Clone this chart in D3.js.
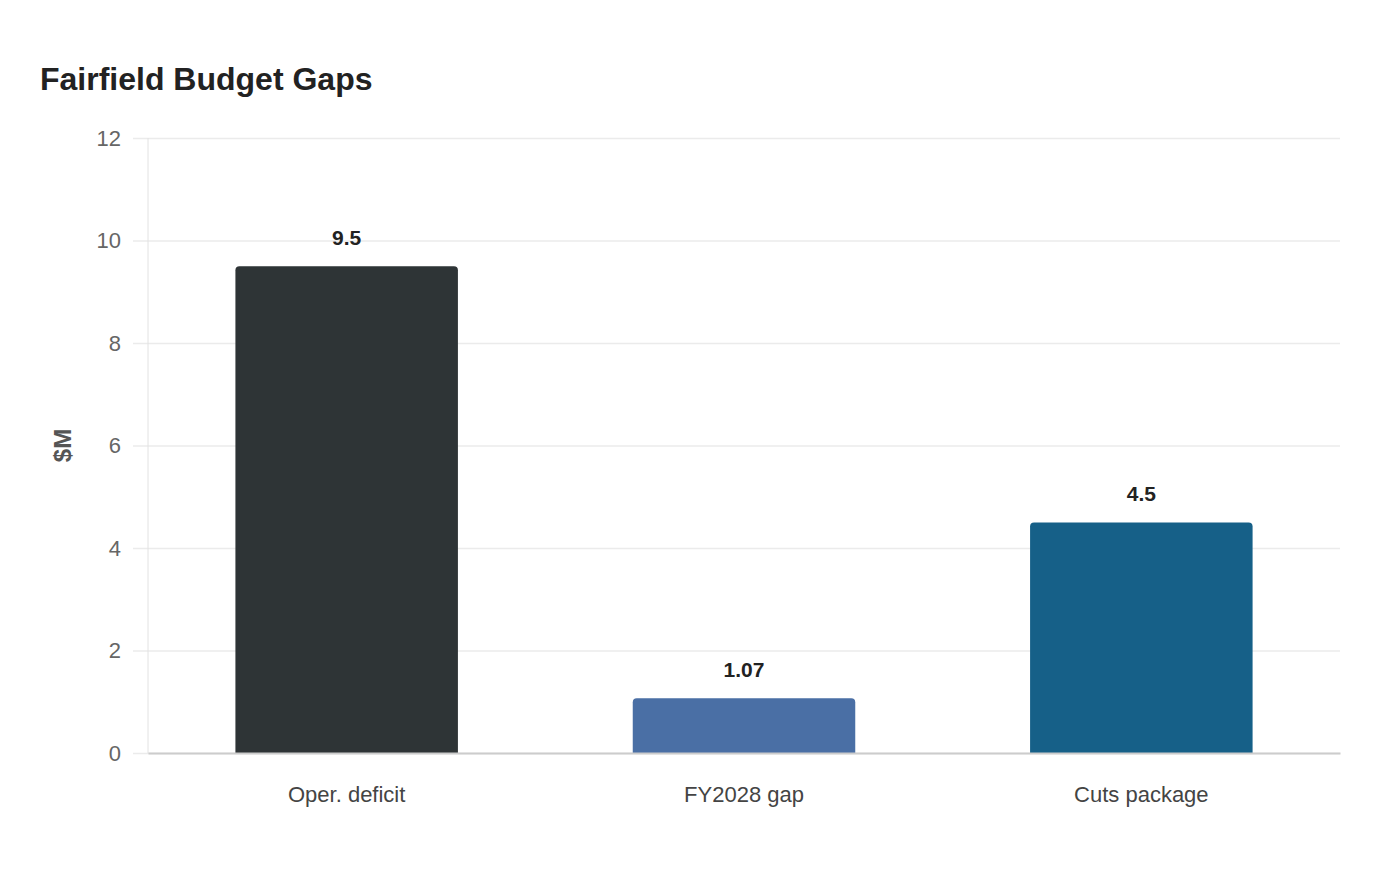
<!DOCTYPE html>
<html lang="en">
<head>
    <meta charset="UTF-8">
    <title>Fairfield Budget Gaps</title>
    <script src="https://d3js.org/d3.v7.min.js"></script>
    <style>
        body { margin: 0; background: #fff; }
        .chart { font-family: "Liberation Sans", Arial, sans-serif; }
    </style>
</head>
<body>
    <div class="chart" id="budget_chart"></div>

    <script>
        // values, $M
        const categories = ["Oper. deficit", "FY2028 gap", "Cuts package"];
        const amounts = [9.5, 1.07, 4.5];
        const barColors = ["#2e3436", "#4a6fa5", "#166088"];
        const yTicks = [0, 2, 4, 6, 8, 10, 12];

        const width = 1400, height = 880;
        const margin = { top: 138, right: 60, bottom: 127, left: 148 };
        const innerW = width - margin.left - margin.right;
        const innerH = height - margin.top - margin.bottom;
        const fontFam = "\"Liberation Sans\", Arial, sans-serif";

        const svg = d3.select("#budget_chart").append("svg")
            .attr("width", width)
            .attr("height", height);

        svg.append("text")
            .attr("x", 40)
            .attr("y", 90)
            .style("font-size", "32px")
            .style("font-weight", "bold")
            .attr("fill", "#222")
            .text("Fairfield Budget Gaps");

        const g = svg.append("g")
            .attr("transform", `translate(${margin.left},${margin.top})`);

        const x = d3.scaleBand()
            .domain(categories)
            .range([0, innerW])
            .paddingInner(0.44)
            .paddingOuter(0.22);

        const y = d3.scaleLinear()
            .domain([0, 12])
            .range([innerH, 0]);

        // grid lines + y ticks
        const yAxis = g.append("g")
            .call(d3.axisLeft(y).tickValues(yTicks));
        yAxis.select(".domain").remove();
        yAxis.selectAll(".tick line")
            .attr("x1", -15)
            .attr("x2", innerW)
            .attr("stroke", "#ebebeb")
            .attr("stroke-width", 1.5);
        yAxis.selectAll(".tick text")
            .attr("x", -27)
            .style("font-size", "22px")
            .style("font-family", fontFam)
            .attr("fill", "#666");

        // left axis line
        g.append("line")
            .attr("x1", 0).attr("x2", 0)
            .attr("y1", 0).attr("y2", innerH)
            .attr("stroke", "#e2e2e2");

        // bars with rounded tops
        const r = 4;
        g.selectAll(".bar")
            .data(amounts)
            .join("path")
            .attr("class", "bar")
            .attr("fill", (d, i) => barColors[i])
            .attr("d", (d, i) => {
                const x0 = x(categories[i]), x1 = x0 + x.bandwidth();
                const y0 = y(0), y1 = y(d);
                return `M${x0},${y0}V${y1 + r}Q${x0},${y1} ${x0 + r},${y1}H${x1 - r}Q${x1},${y1} ${x1},${y1 + r}V${y0}Z`;
            });

        // value labels
        g.selectAll(".val")
            .data(amounts)
            .join("text")
            .attr("class", "val")
            .attr("x", (d, i) => x(categories[i]) + x.bandwidth() / 2)
            .attr("y", d => y(d) - 21)
            .attr("text-anchor", "middle")
            .style("font-size", "21px")
            .style("font-weight", "bold")
            .attr("fill", "#222")
            .text(d => d);

        // bottom axis
        const xAxis = g.append("g")
            .attr("transform", `translate(0,${innerH})`)
            .call(d3.axisBottom(x).tickSize(0).tickPadding(33));
        xAxis.select(".domain")
            .attr("stroke", "#cccccc")
            .attr("stroke-width", 2);
        xAxis.selectAll(".tick text")
            .style("font-size", "22px")
            .style("font-family", fontFam)
            .attr("fill", "#444");

        // y axis title
        svg.append("text")
            .attr("transform", `translate(71,${margin.top + innerH / 2}) rotate(-90)`)
            .attr("text-anchor", "middle")
            .style("font-size", "24px")
            .style("font-weight", "bold")
            .attr("fill", "#555")
            .text("$M");
    </script>
</body>
</html>
